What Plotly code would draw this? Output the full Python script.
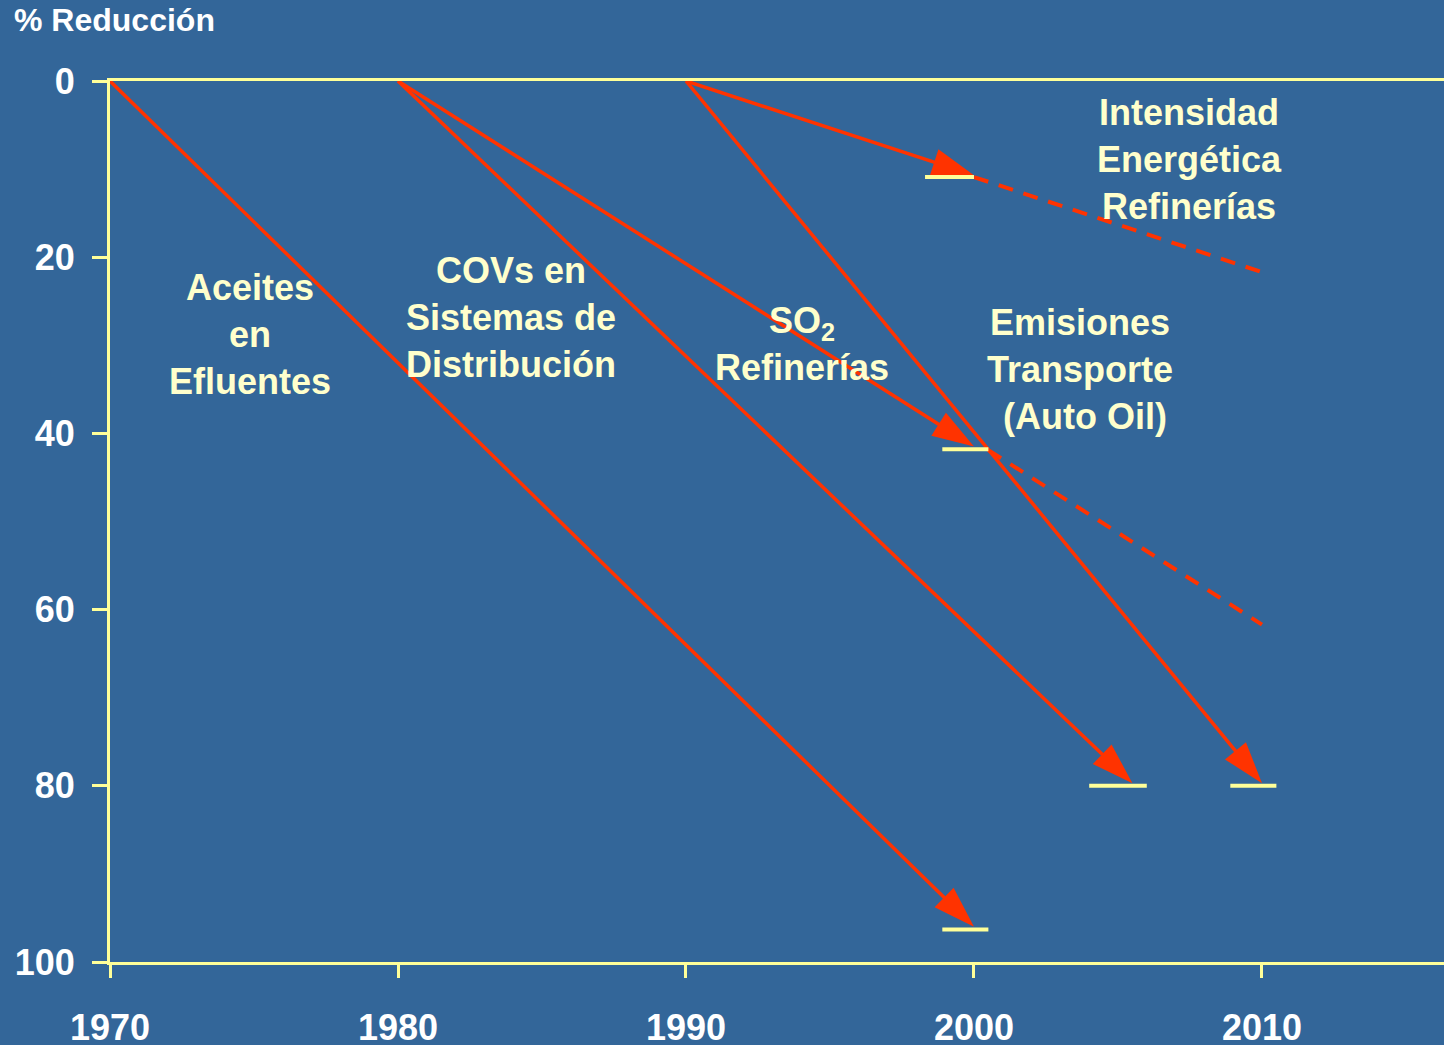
import plotly.graph_objects as go

BG = "#336699"
YEL = "#FFFF99"
RED = "#FF3300"
TXT = "#FFFFCC"
FONT = "Arial, Liberation Sans, sans-serif"

# reduction paths (start -> arrow tip)
start_year = [1970, 1980, 1980, 1990, 1990]
start_red = [0, 0, 0, 0, 0]
end_year = [2000, 2005.5, 2000, 2010, 2000]
end_red = [96, 79.7, 41.5, 79.7, 10.7]

# targets (yellow marks)
target_from = [1998.9, 2004.0, 1998.9, 2008.9, 1998.3]
target_to = [2000.5, 2006.0, 2000.5, 2010.5, 2000.0]
target_red = [96.3, 80, 41.8, 80, 10.9]

# projections (dashed)
proj_year0 = [2000.5, 2000.0]
proj_red0 = [41.9, 10.9]
proj_year1 = [2010, 2010]
proj_red1 = [61.7, 21.7]

# labels
label_text = ["Aceites<br>en<br>Efluentes",
              "COVs en<br>Sistemas de<br>Distribución",
              "SO<sub>2</sub><br>Refinerías",
              "Emisiones<br>Transporte<br> (Auto Oil)",
              "Intensidad<br>Energética<br>Refinerías"]
label_x = [1974.86, 1983.92, 1994.03, 2003.68, 2007.5]
label_y = [28.8, 26.9, 29.9, 32.8, 8.9]

x_ticks = [1970, 1980, 1990, 2000, 2010]
y_ticks = [0, 20, 40, 60, 80, 100]

fig = go.Figure()

for x0, y0, x1, y1 in zip(proj_year0, proj_red0, proj_year1, proj_red1):
    fig.add_trace(go.Scatter(x=[x0, x1], y=[y0, y1], mode="lines",
                             line=dict(color=RED, width=4, dash="15px,11px"),
                             hoverinfo="skip"))

for x0, y0, x1, y1 in zip(start_year, start_red, end_year, end_red):
    fig.add_trace(go.Scatter(x=[x0, x1], y=[y0, y1], mode="lines+markers",
                             line=dict(color=RED, width=3.5),
                             marker=dict(symbol="arrow", angleref="previous",
                                         size=[0, 44], color=RED, opacity=1,
                                         line=dict(width=0, color=RED)),
                             hoverinfo="skip"))

for a, b, r in zip(target_from, target_to, target_red):
    fig.add_trace(go.Scatter(x=[a, b], y=[r, r], mode="lines",
                             line=dict(color=YEL, width=4), hoverinfo="skip"))

for t, x, y in zip(label_text, label_x, label_y):
    fig.add_annotation(x=x, y=y, text=t, showarrow=False,
                       font=dict(family=FONT, size=36, color=TXT, weight="bold"))

fig.update_layout(
    width=1444, height=1045,
    paper_bgcolor=BG, plot_bgcolor=BG,
    margin=dict(l=110, r=0, t=81, b=83, pad=0, autoexpand=False),
    showlegend=False,
    font=dict(family=FONT, color="white"),
    title=dict(text="<b>% Reducción</b>", x=0.0097, xanchor="left",
               xref="container", y=1 - 20 / 1045, yanchor="middle",
               font=dict(size=32, color="white", family=FONT)),
)
fig.update_xaxes(range=[1970, 2016.32], tickvals=x_ticks, ticks="outside",
                 ticklen=13, tickwidth=3, tickcolor=YEL, showline=True,
                 linecolor=YEL, linewidth=3, mirror=True, showgrid=False,
                 zeroline=False, ticklabelstandoff=19, automargin=False,
                 tickfont=dict(size=36, color="white", family=FONT, weight="bold"))
fig.update_yaxes(range=[100, 0], tickvals=y_ticks, ticks="outside",
                 ticklen=15, tickwidth=3, tickcolor=YEL, showline=True,
                 linecolor=YEL, linewidth=3, showgrid=False, zeroline=False,
                 ticklabelstandoff=10, automargin=False,
                 tickfont=dict(size=36, color="white", family=FONT, weight="bold"))

fig.write_html("out.html", config={"displayModeBar": False},
               post_script="document.body.style.margin='0';"
                           "document.body.style.background='" + BG + "';")
